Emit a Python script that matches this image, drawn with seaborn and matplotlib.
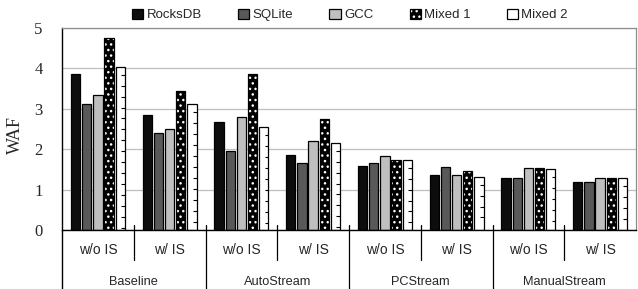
import numpy as np
import pandas as pd
import matplotlib
matplotlib.use('Agg')
import matplotlib.pyplot as plt
import matplotlib.transforms as mtransforms
from matplotlib.patches import Patch, Rectangle
from matplotlib.legend_handler import HandlerTuple
import seaborn as sns

schemes = ['Baseline', 'AutoStream', 'PCStream', 'ManualStream']
modes = ['w/o IS', 'w/ IS']
workloads = ['RocksDB', 'SQLite', 'GCC', 'Mixed 1', 'Mixed 2']

# WAF por workload: Baseline(w/o, w/), AutoStream(w/o, w/), PCStream(w/o, w/), ManualStream(w/o, w/)
rocksdb = [3.86, 2.85, 2.67, 1.85, 1.58, 1.35, 1.28, 1.20]
sqlite = [3.12, 2.39, 1.96, 1.65, 1.67, 1.57, 1.28, 1.20]
gcc = [3.35, 2.51, 2.80, 2.21, 1.84, 1.36, 1.54, 1.29]
mixed1 = [4.76, 3.45, 3.85, 2.75, 1.73, 1.47, 1.54, 1.29]
mixed2 = [4.04, 3.11, 2.54, 2.16, 1.74, 1.32, 1.51, 1.29]
yticks = [0, 1, 2, 3, 4, 5]

SANS = 'Liberation Sans'
SERIF = 'Liberation Serif'

sns.set_style('white')
plt.rcParams['font.family'] = [SANS, 'DejaVu Sans']
plt.rcParams['hatch.linewidth'] = 1.0

# montar tabela longa
clusters = [f'{s}|{m}' for s in schemes for m in modes]
series = {'RocksDB': rocksdb, 'SQLite': sqlite, 'GCC': gcc, 'Mixed 1': mixed1, 'Mixed 2': mixed2}
rows = []
for name in workloads:
    for c, v in zip(clusters, series[name]):
        rows.append({'cluster': c, 'workload': name, 'WAF': v})
df = pd.DataFrame(rows)

colors = {'RocksDB': '#0d0d0d', 'SQLite': '#595959', 'GCC': '#bfbfbf',
          'Mixed 1': '#000000', 'Mixed 2': '#ffffff'}

fig = plt.figure(figsize=(6.38, 2.89), dpi=100)
ax = fig.add_axes([62 / 638, 1 - 230 / 289, 574 / 638, 202 / 289])

sns.barplot(data=df, x='cluster', y='WAF', hue='workload', order=clusters,
            hue_order=workloads, palette=colors, width=0.78, gap=0.17,
            edgecolor='black', linewidth=0.9, legend=False, ax=ax)

# Mixed 1: preto com pontos brancos
for bar in ax.containers[3]:
    bar.set_edgecolor('white')
    bar.set_hatch('...')
    bar.set_linewidth(0)
    ax.add_patch(Rectangle(bar.get_xy(), bar.get_width(), bar.get_height(),
                           fill=False, edgecolor='black', linewidth=0.9, zorder=bar.get_zorder() + 0.1))

# Mixed 2: branco com marquinhas do lado direito
step = 0.27
for bar in ax.containers[4]:
    x1 = bar.get_x() + bar.get_width()
    w = bar.get_width() * 0.4
    h = bar.get_height()
    for yy in np.arange(h - 0.2, 0.05, -step):
        ax.plot([x1 - w, x1], [yy, yy], color='black', lw=0.8, solid_capstyle='butt')

ax.set_xlim(-0.5, len(clusters) - 0.5)
ax.set_ylim(0, 5)
ax.set_yticks(yticks)
ax.set_yticklabels([str(t) for t in yticks], fontfamily=SERIF, fontsize=12)
ax.tick_params(axis='y', length=0, pad=14)
ax.set_xticks([])
ax.set_xlabel('')
ax.set_ylabel('WAF', fontfamily=SERIF, fontsize=13)
ax.yaxis.set_label_coords(-0.066, 0.47)

ax.grid(axis='y', color='#bfbfbf', linewidth=0.9)
ax.set_axisbelow(True)
for side in ['top', 'right']:
    ax.spines[side].set_color('#8c8c8c')
    ax.spines[side].set_linewidth(0.9)
for side in ['left', 'bottom']:
    ax.spines[side].set_color('black')
    ax.spines[side].set_linewidth(1.0)

# rótulos de categoria em dois níveis
trans = mtransforms.blended_transform_factory(ax.transData, ax.transAxes)
for i, c in enumerate(clusters):
    s, m = c.split('|')
    ax.text(i, -0.10, m, transform=trans, ha='center', va='center', fontsize=10)
for j, s in enumerate(schemes):
    ax.text(2 * j + 0.5, -0.255, s, transform=trans, ha='center', va='center', fontsize=9.2)

for k in range(len(clusters) - 1):
    xb = k + 0.5
    low = -0.15 if k % 2 == 0 else -0.29
    ax.plot([xb, xb], [0.025, low], transform=trans, color='black', lw=0.9, clip_on=False)
ax.plot([-0.5, -0.5], [0, -0.29], transform=trans, color='black', lw=1.0, clip_on=False)

# legenda
handles = []
for name in workloads:
    if name == 'Mixed 1':
        handles.append((Patch(facecolor='black', edgecolor='white', hatch='...', linewidth=0),
                        Patch(fill=False, edgecolor='black', linewidth=0.9)))
    else:
        handles.append(Patch(facecolor=colors[name], edgecolor='black', linewidth=0.9))
fig.legend(handles, workloads, loc='center', bbox_to_anchor=(350 / 638, 1 - 15 / 289),
           ncol=5, frameon=False, fontsize=9.5, handlelength=0.85, handleheight=0.85,
           handletextpad=0.25, columnspacing=2.75, borderaxespad=0,
           handler_map={tuple: HandlerTuple(ndivide=1, pad=0)})

fig.savefig('out.png', dpi=100)
